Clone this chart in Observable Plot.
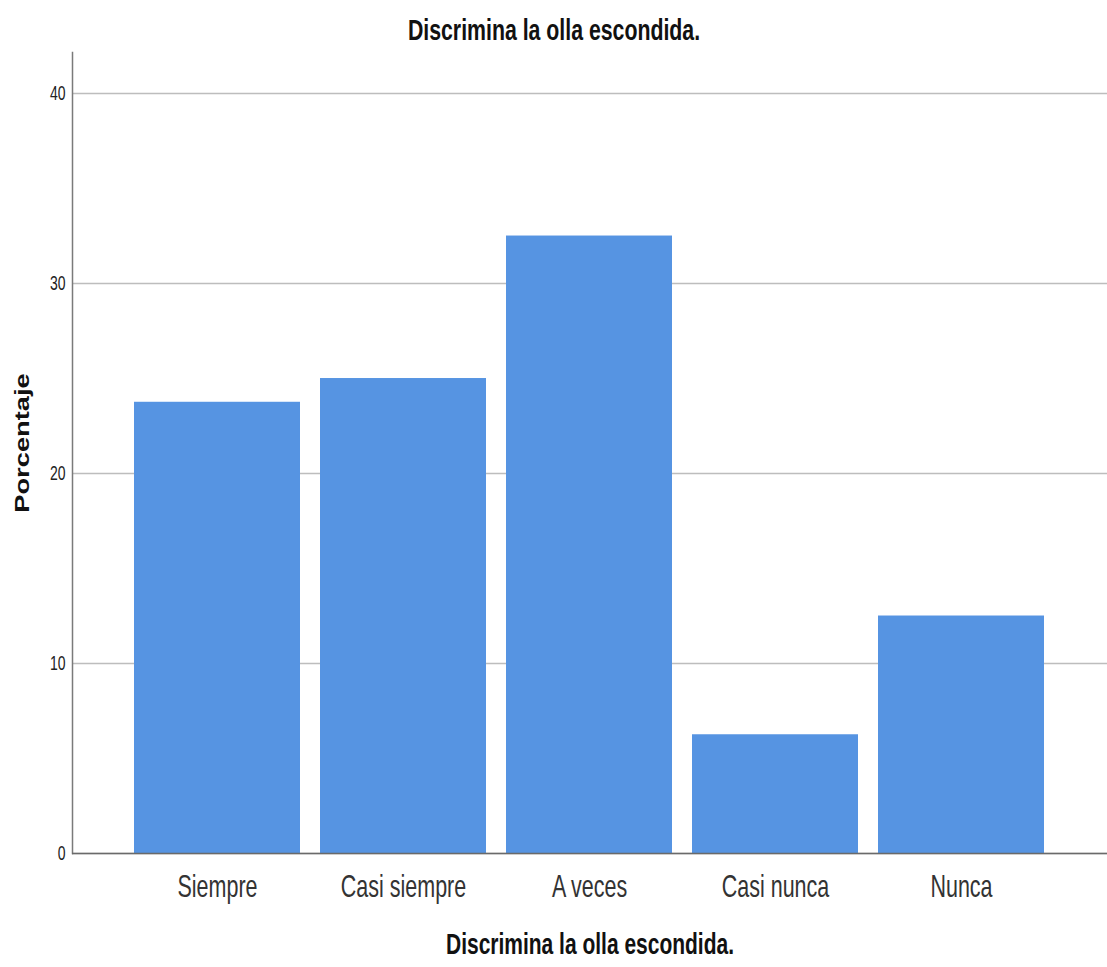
<!DOCTYPE html>
<html>
<head>
<meta charset="utf-8">
<script src="https://cdn.jsdelivr.net/npm/d3@7"></script>
<script src="https://cdn.jsdelivr.net/npm/@observablehq/plot@0.6"></script>
<style>
  html, body { margin: 0; padding: 0; background: #fff; }
  #chart svg { display: block; }
</style>
</head>
<body>
<div id="chart"></div>
<script>
const categories = ["Siempre", "Casi siempre", "A veces", "Casi nunca", "Nunca"];
const percentages = [23.75, 25, 32.5, 6.25, 12.5];
const yTicks = [0, 10, 20, 30, 40];
const titleText = "Discrimina la olla escondida.";
const xLabel = "Discrimina la olla escondida.";
const yLabel = "Porcentaje";

const data = categories.map((c, i) => ({category: c, value: percentages[i]}));
const font = "Arial, 'Liberation Sans', sans-serif";

const chart = Plot.plot({
  width: 1107,
  height: 967,
  marginTop: 52,
  marginLeft: 72,
  marginRight: 0,
  marginBottom: 114,
  style: {background: "#fff", color: "#222", fontFamily: font},
  x: {domain: categories, paddingInner: 0.105, paddingOuter: 0.327, label: null},
  y: {domain: [0, 42.16], label: null},
  marks: [
    Plot.gridY(yTicks, {stroke: "#bdbdbd", strokeOpacity: 1, strokeWidth: 1.5}),
    Plot.barY(data, {x: "category", y: "value", fill: "#5694e2"}),
    Plot.frame({anchor: "left", stroke: "#7a7a7a", strokeWidth: 1.5}),
    Plot.ruleY([0], {stroke: "#6a6a6a", strokeWidth: 1.5}),
    Plot.axisY(yTicks, {tickSize: 0, tickPadding: 7, fontSize: 14, fontFamily: font, fill: "#222", label: null, className: "ytick"}),
    Plot.axisX({tickSize: 0, tickPadding: 21, fontSize: 21.5, fontFamily: font, fill: "#333", label: null, className: "xtick"}),
    Plot.text([titleText], {frameAnchor: "top", dx: -36, dy: -34, fontSize: 21.3, fontWeight: "bold", fontFamily: font, fill: "#111", className: "ttl"}),
    Plot.text([xLabel], {frameAnchor: "bottom", dy: 100, fontSize: 21, fontWeight: "bold", fontFamily: font, fill: "#111", className: "ttl"}),
    Plot.text([yLabel], {frameAnchor: "left", dx: -50, dy: -10, rotate: -90, textAnchor: "middle", fontSize: 19.5, fontWeight: "bold", fontFamily: font, fill: "#111", className: "ylab"})
  ]
});
// the reference's text is stretched vertically
function stretch(sel, s) {
  chart.querySelectorAll(sel).forEach(t => {
    const tr = t.getAttribute("transform") || "";
    t.setAttribute("transform", (tr + " " + s).trim());
  });
}
stretch(".ytick text", "scale(1,1.5)");
stretch(".xtick text", "scale(1,1.45)");
stretch(".ttl text", "scale(1,1.42)");
stretch(".ylab text", "scale(1.4,1)");
document.getElementById("chart").appendChild(chart);
</script>
</body>
</html>
